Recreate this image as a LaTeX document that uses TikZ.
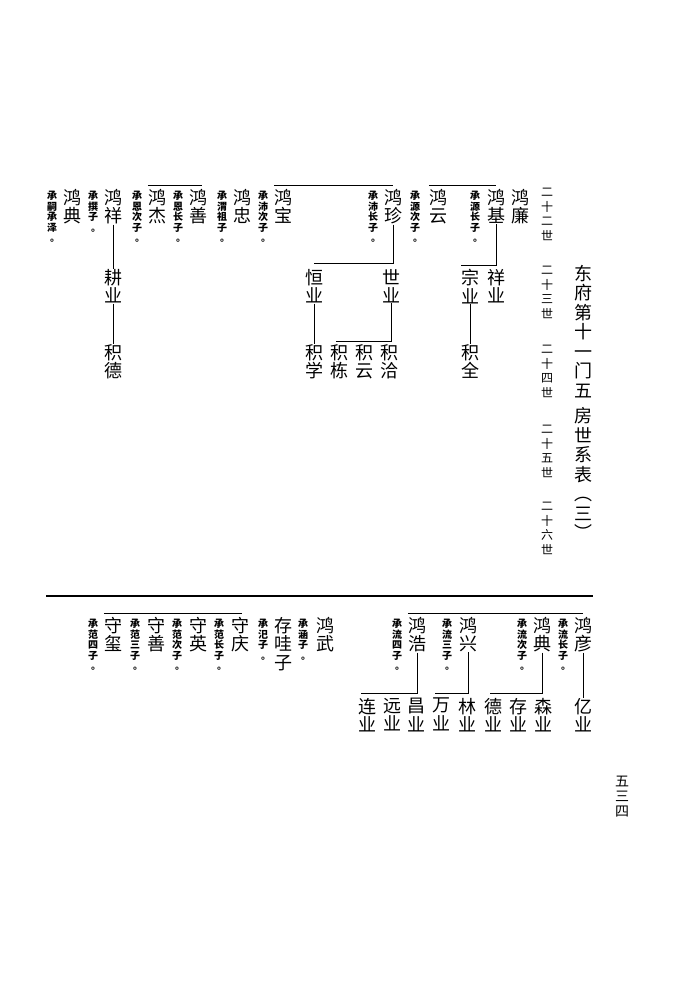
\documentclass[tikz,border=0pt]{standalone}
\usepackage{fontspec}
\newfontfamily\cjk{Noto Sans CJK SC}
\newcommand\dotc{\makebox[1em][l]{\hspace{0.3em}。}}
\tikzset{
  nm/.style={font=\cjk\fontsize{18}{18.5}\selectfont, align=center, inner sep=0pt, anchor=north},
  ann/.style={font=\cjk\bfseries\fontsize{10}{10.5}\selectfont, align=center, inner sep=0pt, anchor=north},
  gen/.style={font=\cjk\fontsize{12}{14.5}\selectfont, align=center, inner sep=0pt, anchor=north},
  ttl/.style={font=\cjk\fontsize{18}{19.5}\selectfont, align=center, inner sep=0pt, anchor=north},
  pg/.style={font=\cjk\fontsize{14}{15}\selectfont, align=center, inner sep=0pt, anchor=north},
  ln/.style={line width=1pt},
  rule/.style={line width=2.4pt}
}
\begin{document}
\begin{tikzpicture}[x=1pt,y=-1pt]
\useasboundingbox (0,0) rectangle (674,1007);
\fill[white] (0,0) rectangle (674,1007);

% title and generation labels
\node[ttl] (title) at (583,265) {东\\府\\第\\十\\一\\门\\五\\[6pt]房\\世\\系\\表\\︵\\三\\︶};
\node[gen] (g22) at (547,188) {二\\十\\二\\世};
\node[gen] (g23) at (547,266) {二\\十\\三\\世};
\node[gen] (g24) at (547,345) {二\\十\\四\\世};
\node[gen] (g25) at (547,425) {二\\十\\五\\世};
\node[gen] (g26) at (547,502) {二\\十\\六\\世};

% top: generation 22
\node[nm] (lian) at (520,189) {鸿\\廉};
\node[nm] (ji) at (496,189) {鸿\\基};
\node[ann] (a1) at (475,191) {承\\源\\长\\子\\\dotc};
\node[nm] (yun) at (438,189) {鸿\\云};
\node[ann] (a2) at (415,191) {承\\源\\次\\子\\\dotc};
\node[nm] (zhen) at (393,189) {鸿\\珍};
\node[ann] (a3) at (373,191) {承\\沛\\长\\子\\\dotc};
\node[nm] (bao) at (283,189) {鸿\\宝};
\node[ann] (a4) at (263,191) {承\\沛\\次\\子\\\dotc};
\node[nm] (zhong) at (242,189) {鸿\\忠};
\node[ann] (a5) at (222,191) {承\\渭\\祖\\子\\\dotc};
\node[nm] (shan) at (198,189) {鸿\\善};
\node[ann] (a6) at (178,191) {承\\恩\\长\\子\\\dotc};
\node[nm] (jie) at (157,189) {鸿\\杰};
\node[ann] (a7) at (137,191) {承\\恩\\次\\子\\\dotc};
\node[nm] (xiang) at (113,189) {鸿\\祥};
\node[ann] (a8) at (93,191) {承\\撰\\子\\\dotc};
\node[nm] (dian) at (72,189) {鸿\\典};
\node[ann] (a9) at (52,191) {承\\嗣\\承\\泽\\\dotc};

% generation 23
\node[nm] (xiangye) at (496,269) {祥\\业};
\node[nm] (zongye) at (470,269) {宗\\业};
\node[nm] (shiye) at (391,269) {世\\业};
\node[nm] (hengye) at (314,269) {恒\\业};
\node[nm] (gengye) at (113,269) {耕\\业};

% generation 24
\node[nm] (jiquan) at (470,344) {积\\全};
\node[nm] (jiqia) at (389,344) {积\\洽};
\node[nm] (jiyun) at (364,344) {积\\云};
\node[nm] (jidong) at (339,344) {积\\栋};
\node[nm] (jixue) at (314,344) {积\\学};
\node[nm] (jide) at (113,344) {积\\德};

% top connectors
\draw[ln] ([yshift=4pt]yun.north west) -- ([yshift=4pt]ji.north);
\draw[ln] ([yshift=4pt]bao.north west) -- ([yshift=4pt]zhen.north);
\draw[ln] ([yshift=4pt]jie.north west) -- ([yshift=4pt,xshift=4pt]shan.north);
\draw[ln] (ji.south) |- ([yshift=4pt]zongye.north west);
\draw[ln] (zongye.south) -- (zongye.south |- jiquan.north);
\draw[ln] (zhen.south) |- ([yshift=6pt]hengye.north);
\draw[ln] (hengye.south) -- (hengye.south |- jixue.north);
\draw[ln] (shiye.south) |- ([yshift=3pt,xshift=-3pt]jidong.north);
\draw[ln] (xiang.south) -- (xiang.south |- gengye.north);
\draw[ln] (gengye.south) -- (gengye.south |- jide.north);

% rule
\coordinate (rl) at (46,596);
\coordinate (rr) at (593,596);
\draw[rule] (rl) -- (rr);

% bottom: generation 22
\node[nm] (yan) at (583,617) {鸿\\彦};
\node[ann] (b1) at (563,619) {承\\流\\长\\子\\\dotc};
\node[nm] (dianb) at (542,617) {鸿\\典};
\node[ann] (b2) at (522,619) {承\\流\\次\\子\\\dotc};
\node[nm] (xing) at (468,617) {鸿\\兴};
\node[ann] (b3) at (447,619) {承\\流\\三\\子\\\dotc};
\node[nm] (hao) at (417,617) {鸿\\浩};
\node[ann] (b4) at (397,619) {承\\流\\四\\子\\\dotc};
\node[nm] (wu) at (325,617) {鸿\\武};
\node[ann] (b5) at (303,619) {承\\涵\\子\\\dotc};
\node[nm] (cunwa) at (283,617) {存\\哇\\子};
\node[ann] (b6) at (263,619) {承\\汜\\子\\\dotc};
\node[nm] (qing) at (240,617) {守\\庆};
\node[ann] (b7) at (219,619) {承\\范\\长\\子\\\dotc};
\node[nm] (ying) at (198,617) {守\\英};
\node[ann] (b8) at (177,619) {承\\范\\次\\子\\\dotc};
\node[nm] (shans) at (156,617) {守\\善};
\node[ann] (b9) at (135,619) {承\\范\\三\\子\\\dotc};
\node[nm] (xi) at (113,617) {守\\玺};
\node[ann] (b10) at (93,619) {承\\范\\四\\子\\\dotc};

% bottom: generation 23
\node[nm] (yiye) at (583,698) {亿\\业};
\node[nm] (senye) at (543,698) {森\\业};
\node[nm] (cunye) at (518,698) {存\\业};
\node[nm] (deye) at (493,698) {德\\业};
\node[nm] (linye) at (467,698) {林\\业};
\node[nm] (wanye) at (441,698) {万\\业};
\node[nm] (changye) at (416,698) {昌\\业};
\node[nm] (yuanye) at (392,698) {远\\业};
\node[nm] (lianye) at (367,698) {连\\业};

% bottom connectors
\draw[ln] ([yshift=4pt]hao.north west) -- ([yshift=4pt]yan.north);
\draw[ln] ([yshift=4pt]xi.north west) -- ([yshift=4pt,xshift=2pt]qing.north);
\draw[ln] (yan.south) -- (yan.south |- yiye.north);
\draw[ln] (dianb.south) |- ([yshift=5pt,xshift=-3pt]deye.north);
\draw[ln] (xing.south) |- ([yshift=5pt,xshift=-6pt]wanye.north);
\draw[ln] (hao.south) |- ([yshift=5pt,xshift=-6pt]lianye.north);

% page number
\node[pg] (page) at (622,776) {五\\三\\四};
\end{tikzpicture}
\end{document}
